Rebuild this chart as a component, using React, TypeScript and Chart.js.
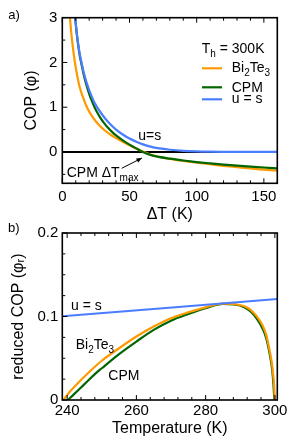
import React, { useEffect, useRef } from "react";
import { Chart, registerables } from "chart.js";
Chart.register(...registerables);

const FONT = "'Liberation Sans', Arial, Helvetica, sans-serif";
const ORANGE = "#FF9900";
const GREEN = "#006600";
const BLUE = "#4A7DFF";

// ---------- Panel a: COP vs ΔT ----------
const aXTicks = [0, 50, 100, 150];
const aYTicks = [0, 1, 2, 3];
const aBlueDT = [9.6, 10, 11, 12, 13, 14.3, 16, 18, 20, 22, 24, 27, 30, 35, 40, 45, 50, 55, 60, 65, 70, 80, 90, 100, 110, 120, 140, 160];
const aBluePhi = [3.0, 2.88, 2.6, 2.38, 2.19, 2.0, 1.77, 1.56, 1.38, 1.23, 1.1, 0.95, 0.82, 0.64, 0.5, 0.39, 0.3, 0.23, 0.17, 0.125, 0.09, 0.05, 0.025, 0.012, 0.006, 0.004, 0.003, 0.003];
const aGreenDT = [9.5, 10, 11, 12, 13, 14.3, 16, 18, 20, 22, 24, 26, 28, 31, 34, 37, 40, 45, 50, 55, 60, 65, 70, 80, 90, 100, 110, 120, 130, 140, 150, 160];
const aGreenPhi = [3.0, 2.86, 2.58, 2.35, 2.15, 1.96, 1.72, 1.49, 1.3, 1.14, 1.0, 0.88, 0.78, 0.65, 0.54, 0.45, 0.37, 0.26, 0.165, 0.08, 0.0, -0.06, -0.1, -0.15, -0.19, -0.225, -0.255, -0.283, -0.307, -0.328, -0.347, -0.365];
const aOrangeDT = [5.7, 6.5, 7.5, 8.5, 9.4, 11, 13, 16.2, 18, 21, 25, 28, 31.5, 36, 40, 45, 50, 55, 61, 65, 70, 80, 90, 100, 110, 120, 130, 140, 150, 160];
const aOrangePhi = [3.0, 2.72, 2.43, 2.19, 2.0, 1.72, 1.44, 1.16, 1.02, 0.85, 0.68, 0.58, 0.485, 0.385, 0.31, 0.225, 0.15, 0.08, 0.0, -0.05, -0.095, -0.155, -0.2, -0.24, -0.275, -0.31, -0.34, -0.37, -0.395, -0.42];
const aZeroDT = [0, 160];
const aZeroPhi = [0, 0];

// ---------- Panel b: reduced COP vs temperature ----------
const bXTicks = [240, 260, 280, 300];
const bYTicks = [0, 0.1, 0.2];
const bBlueT = [238.6, 300.7];
const bBluePhi = [0.1003, 0.121];
const bOrangeT = [238.9, 241, 244, 247, 250, 255, 260, 265, 270, 275, 280, 285, 288, 291, 293, 295, 296.5, 297.5, 298.5, 299.2, 299.7, 300];
const bOrangePhi = [0, 0.011, 0.024, 0.036, 0.047, 0.062, 0.076, 0.088, 0.098, 0.105, 0.111, 0.1155, 0.115, 0.1125, 0.108, 0.099, 0.089, 0.078, 0.059, 0.042, 0.022, 0];
const bGreenT = [240.2, 242, 245, 248, 250, 255, 260, 265, 270, 275, 280, 285, 288, 291, 293, 295, 296.5, 297.5, 298.5, 299.2, 299.6, 299.85];
const bGreenPhi = [0, 0.007, 0.019, 0.031, 0.038, 0.055, 0.07, 0.084, 0.095, 0.103, 0.11, 0.1152, 0.1145, 0.1115, 0.106, 0.096, 0.085, 0.074, 0.055, 0.037, 0.018, 0];

const pts = (xs: number[], ys: number[]) => xs.map((x, i) => ({ x, y: ys[i] }));

function range(a: number, b: number, s: number) {
  const out: number[] = [];
  for (let v = a; v <= b + s * 1e-6; v += s) out.push(Math.round(v * 1e6) / 1e6);
  return out;
}

function frameAndTicks(chart: any, xs: number[], xMajor: number[], ys: number[], yMajor: number[]) {
  const { ctx, chartArea, scales } = chart;
  const { left, right, top, bottom } = chartArea;
  const isMaj = (arr: number[], v: number) => arr.some((m) => Math.abs(m - v) < 1e-6);
  ctx.save();
  ctx.strokeStyle = "#000";
  ctx.lineWidth = 1;
  ctx.beginPath();
  for (const v of xs) {
    const p = scales.x.getPixelForValue(v);
    const L = isMaj(xMajor, v) ? 5 : 3;
    ctx.moveTo(p, bottom);
    ctx.lineTo(p, bottom - L);
    ctx.moveTo(p, top);
    ctx.lineTo(p, top + L);
  }
  for (const v of ys) {
    const p = scales.y.getPixelForValue(v);
    const L = isMaj(yMajor, v) ? 5 : 3;
    ctx.moveTo(left, p);
    ctx.lineTo(left + L, p);
  }
  ctx.stroke();
  ctx.lineWidth = 1.6;
  ctx.strokeRect(left, top, right - left, bottom - top);
  ctx.restore();
}

function rich(ctx: CanvasRenderingContext2D, parts: [string, boolean][], x: number, y: number, size: number) {
  let cx = x;
  ctx.textBaseline = "alphabetic";
  ctx.textAlign = "left";
  ctx.fillStyle = "#000";
  for (const [t, sub] of parts) {
    const s = sub ? Math.round(size * 0.7) : size;
    ctx.font = `${s}px ${FONT}`;
    ctx.fillText(t, cx, sub ? y + size * 0.3 : y);
    cx += ctx.measureText(t).width;
  }
}

const aPlugin = {
  id: "aDecor",
  afterDraw(chart: any) {
    frameAndTicks(chart, range(0, 160, 10), aXTicks, range(-0.5, 3, 0.5), aYTicks);
    const ctx: CanvasRenderingContext2D = chart.ctx;
    ctx.save();
    rich(ctx, [["a)", false]], 8.3, 19, 13);
    rich(ctx, [["T", false], ["h", true], [" = 300K", false]], 201.7, 52.7, 14);
    const leg: [string, number, [string, boolean][], number][] = [
      [ORANGE, 68.3, [["Bi", false], ["2", true], ["Te", false], ["3", true]], 71.7],
      [GREEN, 87.3, [["CPM", false]], 91.7],
      [BLUE, 99.3, [["u = s", false]], 103.3],
    ];
    for (const [c, ly, parts, by] of leg) {
      ctx.strokeStyle = c;
      ctx.lineWidth = 2.2;
      ctx.beginPath();
      ctx.moveTo(202, ly);
      ctx.lineTo(222, ly);
      ctx.stroke();
      rich(ctx, parts, 231.7, by, 14);
    }
    rich(ctx, [["u=s", false]], 138.3, 140, 14);
    rich(ctx, [["CPM ΔT", false], ["max", true]], 66.7, 176.7, 14);
    // arrow
    const x1 = 121.7, y1 = 168.3, x2 = 142, y2 = 158;
    ctx.strokeStyle = "#000";
    ctx.fillStyle = "#000";
    ctx.lineWidth = 1;
    ctx.beginPath();
    ctx.moveTo(x1, y1);
    ctx.lineTo(x2, y2);
    ctx.stroke();
    const ang = Math.atan2(y2 - y1, x2 - x1);
    ctx.beginPath();
    ctx.moveTo(x2, y2);
    ctx.lineTo(x2 - 6 * Math.cos(ang - 0.4), y2 - 6 * Math.sin(ang - 0.4));
    ctx.lineTo(x2 - 6 * Math.cos(ang + 0.4), y2 - 6 * Math.sin(ang + 0.4));
    ctx.closePath();
    ctx.fill();
    ctx.restore();
  },
};

const B_TOP = 215;
const bPlugin = {
  id: "bDecor",
  afterDraw(chart: any) {
    frameAndTicks(chart, range(240, 300, 4), bXTicks, range(0, 0.2, 0.025), bYTicks);
    const ctx: CanvasRenderingContext2D = chart.ctx;
    ctx.save();
    rich(ctx, [["b)", false]], 8, 232 - B_TOP, 13);
    rich(ctx, [["u = s", false]], 71, 310 - B_TOP, 14);
    rich(ctx, [["Bi", false], ["2", true], ["Te", false], ["3", true]], 75.7, 349 - B_TOP, 14);
    rich(ctx, [["CPM", false]], 108.3, 380 - B_TOP, 14);
    ctx.restore();
  },
};

const tickFont = { family: FONT, size: 15 };
const titleFont = { family: FONT, size: 16 };

function lineDs(data: any[], color: string, order: number, width = 2.2) {
  return {
    data,
    borderColor: color,
    backgroundColor: color,
    borderWidth: width,
    pointRadius: 0,
    fill: false,
    cubicInterpolationMode: "monotone" as const,
    order,
  };
}

function ChartA() {
  const ref = useRef<HTMLCanvasElement>(null);
  useEffect(() => {
    const chart = new Chart(ref.current!, {
      type: "line",
      data: {
        datasets: [
          lineDs(pts(aZeroDT, aZeroPhi), "#000", 10, 2),
          lineDs(pts(aOrangeDT, aOrangePhi), ORANGE, 3),
          lineDs(pts(aGreenDT, aGreenPhi), GREEN, 2),
          lineDs(pts(aBlueDT, aBluePhi), BLUE, 1),
        ] as any,
      },
      options: {
        animation: false,
        responsive: false,
        events: [],
        layout: { padding: { top: 17.7, right: 22.7, left: 0, bottom: 0 } },
        plugins: { legend: { display: false }, tooltip: { enabled: false } },
        scales: {
          x: {
            type: "linear",
            min: 0,
            max: 160,
            afterFit: (s: any) => { s.height = 230 - 183.3; },
            afterBuildTicks: (s: any) => { s.ticks = aXTicks.map((v) => ({ value: v })); },
            grid: { display: false, drawTicks: false },
            border: { display: false },
            ticks: { font: tickFont, color: "#000", padding: 4.4, maxRotation: 0, callback: (v: any) => String(v) },
            title: { display: true, text: "ΔT (K)", font: titleFont, color: "#000", padding: { top: 0, bottom: 5.9 } },
          },
          y: {
            type: "linear",
            min: -0.7,
            max: 3,
            afterFit: (s: any) => { s.width = 62.3; },
            afterBuildTicks: (s: any) => { s.ticks = aYTicks.map((v) => ({ value: v })); },
            grid: { display: false, drawTicks: false },
            border: { display: false },
            ticks: { font: tickFont, color: "#000", padding: 5, callback: (v: any) => String(v) },
            title: { display: true, text: "COP (φ)", font: titleFont, color: "#000", padding: { top: 22.4, bottom: 0 } },
          },
        },
      },
      plugins: [aPlugin],
    });
    return () => chart.destroy();
  }, []);
  return <canvas ref={ref} width={300} height={230} style={{ position: "absolute", left: 0, top: 0, width: 300, height: 230 }} />;
}

function ChartB() {
  const ref = useRef<HTMLCanvasElement>(null);
  useEffect(() => {
    const chart = new Chart(ref.current!, {
      type: "line",
      data: {
        datasets: [
          lineDs(pts(bGreenT, bGreenPhi), GREEN, 3),
          lineDs(pts(bOrangeT, bOrangePhi), ORANGE, 2),
          lineDs(pts(bBlueT, bBluePhi), BLUE, 1, 2),
        ] as any,
      },
      options: {
        animation: false,
        responsive: false,
        events: [],
        layout: { padding: { top: 233 - B_TOP, right: 22.7, left: 0, bottom: 0 } },
        plugins: { legend: { display: false }, tooltip: { enabled: false } },
        scales: {
          x: {
            type: "linear",
            min: 238.6,
            max: 300.7,
            afterFit: (s: any) => { s.height = 447 - 400; },
            afterBuildTicks: (s: any) => { s.ticks = bXTicks.map((v) => ({ value: v })); },
            grid: { display: false, drawTicks: false },
            border: { display: false },
            ticks: { font: tickFont, color: "#000", padding: 2, maxRotation: 0, callback: (v: any) => String(v) },
            title: { display: true, text: "Temperature (K)", font: titleFont, color: "#000", padding: { top: 0, bottom: 9.1 } },
          },
          y: {
            type: "linear",
            min: 0,
            max: 0.2,
            afterFit: (s: any) => { s.width = 62.3; },
            afterBuildTicks: (s: any) => { s.ticks = bYTicks.map((v) => ({ value: v })); },
            grid: { display: false, drawTicks: false },
            border: { display: false },
            ticks: { font: tickFont, color: "#000", padding: 4, callback: (v: any) => String(v) },
            title: { display: true, text: "reduced COP (φᵣ)", font: titleFont, color: "#000", padding: { top: 9.4, bottom: 0 } },
          },
        },
      },
      plugins: [bPlugin],
    });
    return () => chart.destroy();
  }, []);
  return <canvas ref={ref} width={300} height={447 - B_TOP} style={{ position: "absolute", left: 0, top: B_TOP, width: 300, height: 447 - B_TOP }} />;
}

export default function App() {
  return (
    <div style={{ position: "absolute", left: 0, top: 0, width: 300, height: 447, background: "#fff" }}>
      <ChartB />
      <ChartA />
    </div>
  );
}
